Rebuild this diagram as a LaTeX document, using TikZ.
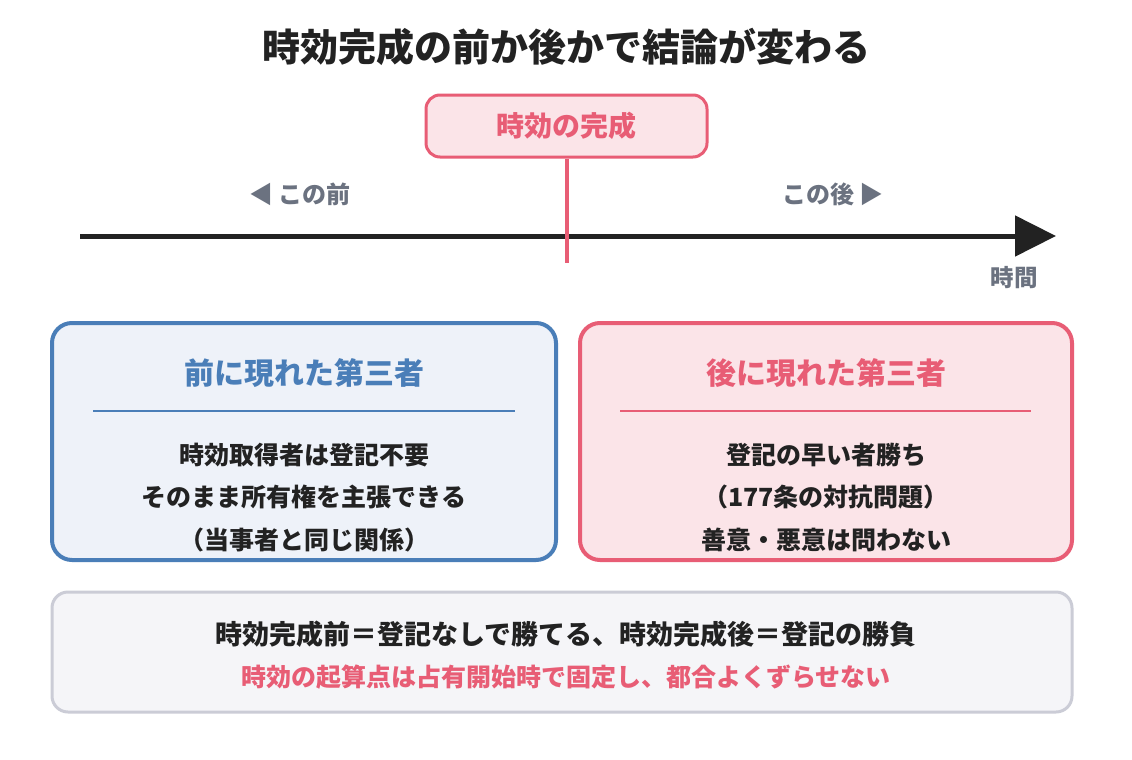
\documentclass[tikz,border=0pt]{standalone}
\usepackage{fontspec}
\setmainfont{Noto Sans CJK JP}
\usetikzlibrary{arrows.meta}
\definecolor{ink}{HTML}{222222}
\definecolor{pinkc}{HTML}{E85D75}
\definecolor{pinkfill}{HTML}{FBE4E8}
\definecolor{bluec}{HTML}{4A7EB8}
\definecolor{bluefill}{HTML}{EEF2F9}
\definecolor{grayt}{HTML}{6B7280}
\definecolor{notefill}{HTML}{F5F5F8}
\definecolor{notedraw}{HTML}{CBCCD6}
\tikzset{
  fs/.style={font=\bfseries\fontsize{#1}{#1}\selectfont},
  panel/.style={rounded corners=20pt, line width=4pt, minimum width=#1, minimum height=237pt, inner sep=0pt},
  body/.style={fs=25, text=ink, inner sep=0pt},
}
\begin{document}
\begin{tikzpicture}[x=1pt,y=-1pt]
\useasboundingbox[fill=white] (0,0) rectangle (1132,760);
% title
\node[fs=38, text=ink] (title) at (566,47) {時効完成の前か後かで結論が変わる};
% timeline
\coordinate (tl0) at (80,236);
\coordinate (tl1) at (1056,236);
\draw[line width=5pt, ink, -{Triangle[length=41pt,width=40pt]}] (tl0) -- (tl1);
% completion tag
\node[draw=pinkc, fill=pinkfill, line width=3pt, rounded corners=14pt, minimum width=281pt, minimum height=62pt, inner sep=0pt] (done) at (566.5,126) {};
\coordinate (tick) at (566.5,263);
\draw[pinkc, line width=4pt] (done.south) -- (tick);
\node[fs=28, text=pinkc] (donet) at (done.center) {時効の完成};
% direction labels
\node[fs=24, text=grayt] (before) at (300,194) {◀ この前};
\node[fs=24, text=grayt] (after) at (833,194) {この後 ▶};
\node[fs=23.5, text=grayt] (time) at (1014,278) {時間};
% left panel
\node[panel=504pt, draw=bluec, fill=bluefill] (left) at (304,441.5) {};
\node[fs=30, text=bluec] (lefth) at (304,373) {前に現れた第三者};
\coordinate (ld0) at (93,411);
\coordinate (ld1) at (515,411);
\draw[bluec, line width=2.5pt] (ld0) -- (ld1);
\node[body] (l1) at (304,455) {時効取得者は登記不要};
\node[body] (l2) at (304,497) {そのまま所有権を主張できる};
\node[body] (l3) at (304,540) {（当事者と同じ関係）};
% right panel
\node[panel=492pt, draw=pinkc, fill=pinkfill] (right) at (826,441.5) {};
\node[fs=30, text=pinkc] (righth) at (826,373) {後に現れた第三者};
\coordinate (rd0) at (620,411);
\coordinate (rd1) at (1031,411);
\draw[pinkc, line width=2.5pt] (rd0) -- (rd1);
\node[body] (r1) at (826,455) {登記の早い者勝ち};
\node[body] (r2) at (826,497) {（177条の対抗問題）};
\node[body] (r3) at (826,540) {善意・悪意は問わない};
% note
\node[draw=notedraw, fill=notefill, line width=3pt, rounded corners=16pt, minimum width=1020pt, minimum height=120pt, inner sep=0pt] (note) at (562,652) {};
\node[fs=27, text=ink] (n1) at (566,634) {時効完成前＝登記なしで勝てる、時効完成後＝登記の勝負};
\node[fs=25, text=pinkc] (n2) at (566,677) {時効の起算点は占有開始時で固定し、都合よくずらせない};
\end{tikzpicture}
\end{document}
